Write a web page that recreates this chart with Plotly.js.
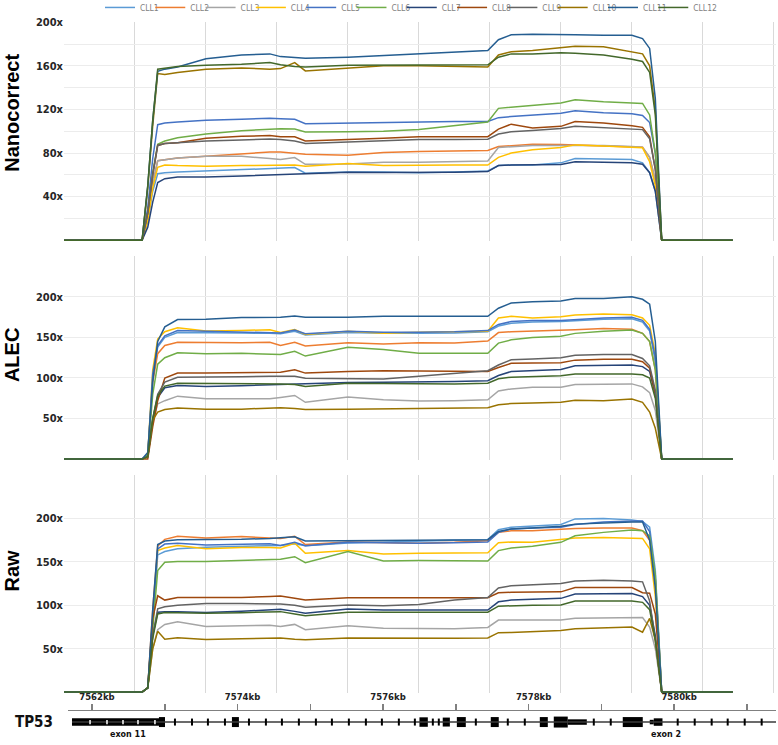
<!DOCTYPE html>
<html><head><meta charset="utf-8">
<script src="https://cdn.plot.ly/plotly-3.0.1.min.js"></script>
<style>html,body{margin:0;padding:0;background:#fff}#chart{width:778px;height:745px}</style>
</head><body><div id="chart"></div>
<script>
// ---------- data ----------
const seriesNames = ['CLL1','CLL2','CLL3','CLL4','CLL5','CLL6','CLL7','CLL8','CLL9','CLL10','CLL11','CLL12'];
const seriesColors = ['#5B9BD5','#ED7D31','#A5A5A5','#FFC000','#4472C4','#70AD47','#264478','#9E480E','#636363','#997300','#255E91','#43682B'];
// positions along the region (grid units, one unit per vertical gridline)
const positions = [0,1.10,1.18,1.25,1.32,1.42,1.6,2.0,2.5,2.9,3.05,3.25,3.4,4.0,4.5,5.0,5.5,5.97,6.12,6.3,6.6,7.0,7.2,7.6,8.0,8.15,8.25,8.33,8.42,9.42];

// Nanocorrect depth
const nano1  = [0,0,18,45,61,62,62.5,63.5,64.5,65.5,66,66.7,61.5,62.7,62.5,62,62.5,63.6,68.5,69,69,71,75,74.5,74,71,62,45,0,0];
const nano2  = [0,0,20,52,73,74,75.5,77,79.5,81,81,79.7,79,78,80.5,81.5,82,82.4,86,87,88,87.9,87.5,87,86,85.4,76,55,0,0];
const nano3  = [0,0,20,52,73,74,75.5,77,77,75,74,75.8,69.7,70,71.5,71.5,72,72.7,85,86,87,87,87,87,86,85.4,76,55,0,0];
const nano4  = [0,0,18,48,67,69,68.5,68,68.5,69,69,69,68,70.5,68.5,69,69,69,76,80,83,85,87.5,86.5,85.5,84.8,72,50,0,0];
const nano5  = [0,0,30,75,106,107.6,108.5,110,111,112,111.5,111,107,107.6,108.5,109,109,109,112.5,113.5,115,116.5,118.8,117,116,114.5,108,80,0,0];
const nano6  = [0,0,25,62,88,91,94,97.5,100.5,102,102.4,102,99.4,99.5,100,101.5,105,108.5,121,122,123.5,126,128.8,127,126,125.5,115,80,0,0];
const nano7  = [0,0,12,35,53,56.5,58,58,59,60,60.5,61,61,62.4,62.2,62,62.3,63,68.5,69,69,69.5,72,71.5,71,69.7,62,45,0,0];
const nano8  = [0,0,25,60,87,88.8,89.5,93.5,95.5,96,95,95,91,92,93.5,95,95,95,102,106.5,103,104.5,109,107.5,105,103.6,95,65,0,0];
const nano9  = [0,0,25,60,87,88.8,89.5,91,92,93,92.5,91,88.8,90,91.5,92.4,92.5,92.7,97.5,99.5,100.6,102.5,104.5,103.5,102,101.5,93,65,0,0];
const nano10 = [0,0,48,105,153,152,154,157,158,157,157.5,163,155.4,157.6,160,160,159.5,159,170,173,174,177,178,177.5,172.7,171,160,120,0,0];
const nano11 = [0,0,50,110,155,157,159,166.5,170,171,168.5,167.5,167,168,169.5,171,173,174,184,188.5,189,189,188.5,188,188,185,176,130,0,0];
const nano12 = [0,0,50,110,157,158,159.5,160.5,161.5,163,161,159.5,159,160.5,160.5,160.5,160.8,161,168,171,171,172,171.5,170,166,164,154,115,0,0];

// ALEC depth
const alec1  = [0,0,5,100,138,150,156,156,155.5,155,154.5,157.5,153,156,155,155,155.5,157,164,167.5,169,169.5,170.5,172.5,173,169,158,120,0,0];
const alec2  = [0,0,5,95,130,140,144,143.5,143.5,144,140,144,139.4,143.5,142,143.5,143,145.5,156,157,157.7,158.5,159.5,161,160,155,145,110,0,0];
const alec3  = [0,0,3,45,68,72,77.6,74.4,74.4,74.4,76,78.5,70,76.4,73,71.5,72,73,84,86.5,88.6,88.6,92,92.7,92.7,89,82,60,0,0];
const alec4  = [0,0,5,110,148,157,162,158,158.5,159.5,156,159.8,153.7,157.7,155,156.5,157,157.7,174,176,174,175.5,177.5,179,178,174,165,130,0,0];
const alec5  = [0,0,5,105,140,152,158.5,157.7,157,156,155.5,159,154.5,157.7,156.5,156.5,157,158.5,166,169.5,171,171,172,174,174.8,171,160,125,0,0];
const alec6  = [0,0,5,80,117,125,131,130,130.5,130,129,133,127,138,135,130.5,130.5,130.5,143,147,150,151.6,155,157.7,159,155,145,110,0,0];
const alec7  = [0,0,3,48,76,88,90.6,89.4,90.5,91.5,92,92.5,92.5,94.5,94.7,94.7,95.5,96.7,103,108,109.5,110.6,115,115.5,116,114,108,80,0,0];
const alec8  = [0,0,0,40,72,100,106,106,106.5,107,107,110,106,108,109,108.5,108,108,113,118,118.5,118.7,122,123,123,120,112,80,0,0];
const alec9  = [0,0,3,50,80,95,100.8,100.8,101.5,102,102,102,99.6,99,98.8,102,106,109,116,122.5,123.5,125,128,129,129,124,115,85,0,0];
const alec10 = [0,0,3,48,58,61,63,61.5,61.5,62.5,63.4,62.5,61,61.5,62,62,62.5,63.4,67,68.5,69,70,72.5,72,74,70,58,38,0,0];
const alec11 = [0,0,8,95,145,163,172,172.5,174.5,174.8,175,176.5,175,175,176,176,176,176,186,192.5,194,195,198,198,200,197,191,145,0,0];
const alec12 = [0,0,3,50,78,90,93.5,93.5,93,93,92.7,92,89.4,93.5,93,92.7,92.7,93.5,99,101,102,102.8,105,105,105,104,100,75,0,0];

// Raw depth
const raw1  = [0,0,5,85,158,162,165,166.8,168,168.5,169,171,168.7,171.8,173,174.4,175,175.6,187,190,191,193,199.5,200,198.4,196.5,190,140,0,0];
const raw2  = [0,0,5,95,168,176,179.5,177.5,179.2,177.5,177,179.4,170,173,172,171.5,172.5,174.4,184,185.8,186,187.7,188.5,189,189,186,175,130,0,0];
const raw3  = [0,0,5,50,72,78,81,75.6,76.5,77,75.5,78,71.8,76.4,73.5,73,73,74.5,83,83,83,83,85,85.5,86,86,75,50,0,0];
const raw4  = [0,0,5,85,163,166,169,165,166.5,166.5,166,171.5,160,163,159,160,160,160.5,172,173,172.5,175.6,177.5,178,177,177,165,110,0,0];
const raw5  = [0,0,5,90,165,170.5,171.4,169.5,170.5,171,169,172.5,168.7,172.5,172,171.5,172,173,184,188,189,190,193,196,197,197,185,130,0,0];
const raw6  = [0,0,5,70,140,149.7,150.5,150.5,151.5,152.5,153,156,149,162,151,151.5,151,151,163,166,168,172.5,180,184,186.6,186,180,135,0,0];
const raw7  = [0,0,5,65,92,92.7,92.5,91.6,93,94.5,95.4,93,90.8,95.8,94.5,94.6,94.6,94.6,104,106,107,108,112.9,113.5,113.6,110,100,65,0,0];
const raw8  = [0,0,5,85,111,106,109,109,109,110,110.6,108,106,108.7,109,109,108.8,108.7,114.5,115,115.2,115.5,120.5,120.5,120.5,114.4,114,90,0,0];
const raw9  = [0,0,5,65,96,98.4,100,102,102,101.5,101.5,100,97.7,100.3,99.5,101,106,109,120,122.5,123.5,125,128,128.8,128,127,105,60,0,0];
const raw10 = [0,0,5,50,70,61,62.5,60.5,61.5,62,62.3,61,60.4,62.3,62,61.6,62,62.3,68.5,68.8,70,71,73,74,74.9,69,85,60,0,0];
const raw11 = [0,0,5,95,170,174,175.6,175.6,176,177,177.5,179,174,174.4,175,175.6,175.6,175.6,185,188,189,191,193.5,195,196,196,175,120,0,0];
const raw12 = [0,0,5,62,90,91.6,91.5,90.8,91.5,92.5,92.7,90,88,92,92,92,92,92,99,99.6,100,100.3,104.9,104.9,104.9,103.4,95,60,0,0];

// y tick labels
const nanoTickVals = [20,40,60,80,100,120,140,160,180,200];
const nanoTickText = ['','40x','','80x','','120x','','160x','','200x'];
const depthTickVals = [50,100,150,200,250];
const depthTickText = ['50x','100x','150x','200x',''];
const panelTitles = ['Nanocorrect','ALEC','Raw'];

// TP53 gene track (kb)
const geneTickVals = [7572,7573,7574,7575,7576,7577,7578,7579,7580,7581];
const geneTickText = ['7562kb','','7574kb','','7576kb','','7578kb','','7580kb',''];
const exonStart  = [7571.725,7572.92,7573.923,7576.50,7576.82,7577.014,7577.48,7578.154,7578.346,7578.538,7579.294,7579.665,7579.72];
const exonEnd    = [7572.934,7573.003,7574.019,7576.615,7576.918,7577.137,7577.59,7578.264,7578.538,7578.80,7579.569,7579.72,7579.84];
const exonHeight = [0.75,1.0,1.0,0.95,0.9,1.0,1.0,1.0,1.1,0.55,1.0,0.45,0.75];
const intronMarks = [7573.140,7573.374,7573.593,7573.827,7574.157,7574.390,7574.610,7574.843,7575.077,7575.297,7575.530,7575.764,7575.984,7576.217,7576.437,7576.684,7576.766,7577.275,7577.714,7577.948,7578.896,7579.129,7580.049,7580.283,7580.516,7580.736,7580.970,7581.203];
const exon11Marks = [7571.973,7572.206,7572.426,7572.632,7572.865];
const geneSpan = [7571.725,7581.40];
const exonLabels = ['exon 11','exon 2'];
const exonLabelPos = [7572.49,7579.885];

// ---------- build ----------
const cond = 'Liberation Sans Narrow, DejaVu Sans Condensed, Arial Narrow, sans-serif';
const panels = [
  {data:[nano1,nano2,nano3,nano4,nano5,nano6,nano7,nano8,nano9,nano10,nano11,nano12], xa:'x', ya:'y', legend:true},
  {data:[alec1,alec2,alec3,alec4,alec5,alec6,alec7,alec8,alec9,alec10,alec11,alec12], xa:'x2', ya:'y2', legend:false},
  {data:[raw1,raw2,raw3,raw4,raw5,raw6,raw7,raw8,raw9,raw10,raw11,raw12], xa:'x3', ya:'y3', legend:false}
];
const traces = [];
panels.forEach(p => {
  p.data.forEach((vals, i) => {
    const tr = {
      type:'scatter', mode:'lines', x:positions, y:vals,
      xaxis:p.xa, yaxis:p.ya, name:seriesNames[i], legendgroup:seriesNames[i],
      showlegend:p.legend, line:{color:seriesColors[i], width:1.5}, hoverinfo:'skip'
    };
    if (p.legend && i === seriesNames.length - 1) tr.legendwidth = 30;
    traces.push(tr);
  });
});
// gene line
traces.push({type:'scatter', mode:'lines', x:geneSpan, y:[0,0], xaxis:'x4', yaxis:'y4',
  line:{color:'#3a3a3a', width:1.5}, showlegend:false, hoverinfo:'skip'});
// exons
traces.push({type:'bar', orientation:'h', xaxis:'x4', yaxis:'y4',
  base:exonStart, x:exonStart.map((s,i)=>exonEnd[i]-s), y:exonStart.map(()=>0), width:exonHeight,
  marker:{color:'#000', line:{width:0}}, showlegend:false, hoverinfo:'skip'});
// intron direction marks
traces.push({type:'scatter', mode:'markers', x:intronMarks, y:intronMarks.map(()=>0), xaxis:'x4', yaxis:'y4',
  marker:{symbol:'line-ns', size:5, line:{width:2, color:'#000'}}, showlegend:false, hoverinfo:'skip'});
traces.push({type:'scatter', mode:'markers', x:exon11Marks, y:exon11Marks.map(()=>0), xaxis:'x4', yaxis:'y4',
  marker:{symbol:'line-ns', size:3, line:{width:1.5, color:'#fff'}}, showlegend:false, hoverinfo:'skip'});

const mainX = {range:[0,10.03], tickvals:[0,1,2,3,4,5,6,7,8,9,10], showticklabels:false, showgrid:true,
  gridcolor:'#d9d9d9', gridwidth:1, zeroline:false, showline:false, ticks:'', fixedrange:true};
const tickFont = {family:cond, size:11, color:'#262626', weight:'bold'};
const mainY = {showgrid:true, gridcolor:'#ececec', gridwidth:1, zeroline:false, showline:false, ticks:'',
  tickfont:tickFont, fixedrange:true};

const annotations = [];
const titleY = [0.8745, 0.5393, 0.2414];
panelTitles.forEach((t,i) => annotations.push({text:t, xref:'paper', yref:'paper', x:-0.073, y:titleY[i],
  xanchor:'center', yanchor:'middle', textangle:-90, showarrow:false,
  font:{family:'Liberation Sans, Arial, sans-serif', size:20, color:'#000', weight:'bold'}}));
annotations.push({text:'TP53', xref:'paper', yref:'y4', x:-0.0126, y:0, xanchor:'right', yanchor:'middle',
  showarrow:false, font:{family:cond, size:15, color:'#111', weight:'bold'}});
exonLabels.forEach((t,i) => annotations.push({text:t, xref:'x4', yref:'y4', x:exonLabelPos[i], y:-1.25,
  xanchor:'center', yanchor:'middle', showarrow:false,
  font:{family:'DejaVu Sans, sans-serif', size:8, color:'#111', weight:'bold'}}));

const layout = {
  width:778, height:745,
  margin:{l:64, r:2, t:20, b:0, pad:0},
  paper_bgcolor:'#fff', plot_bgcolor:'#fff',
  showlegend:true, hovermode:false, barmode:'overlay',
  legend:{orientation:'h', xref:'container', yref:'container', x:0.1285, y:0.99, xanchor:'left', yanchor:'middle',
    font:{family:cond, size:8.5, color:'#7f7f7f'}, entrywidth:5.3, entrywidthmode:'pixels',
    bgcolor:'rgba(0,0,0,0)', borderwidth:0},
  xaxis:Object.assign({}, mainX, {anchor:'y'}),
  xaxis2:Object.assign({}, mainX, {anchor:'y2'}),
  xaxis3:Object.assign({}, mainX, {anchor:'y3'}),
  yaxis:Object.assign({}, mainY, {domain:[0.6966,1], range:[-1,200.3], tickvals:nanoTickVals, ticktext:nanoTickText, anchor:'x'}),
  yaxis2:Object.assign({}, mainY, {domain:[0.3941,0.6763], range:[-1.2,250.4], tickvals:depthTickVals, ticktext:depthTickText, anchor:'x2'}),
  yaxis3:Object.assign({}, mainY, {domain:[0.0717,0.3738], range:[-1.2,250.4], tickvals:depthTickVals, ticktext:depthTickText, anchor:'x3'}),
  xaxis4:{domain:[0.0056,1], range:[7571.67,7581.40], anchor:'y4', side:'top', showline:true, linecolor:'#808080',
    linewidth:1.5, ticks:'outside', ticklen:6, tickwidth:1.5, tickcolor:'#808080', tickvals:geneTickVals,
    ticktext:geneTickText, ticklabelshift:5, tickfont:{family:'DejaVu Sans, sans-serif', size:8.5, color:'#222', weight:'bold'},
    showgrid:false, zeroline:false, fixedrange:true},
  yaxis4:{domain:[0,0.0469], range:[-2.3,1.1], visible:false, fixedrange:true},
  annotations:annotations
};
Plotly.newPlot('chart', traces, layout, {staticPlot:true, displayModeBar:false});
</script>
</body></html>
